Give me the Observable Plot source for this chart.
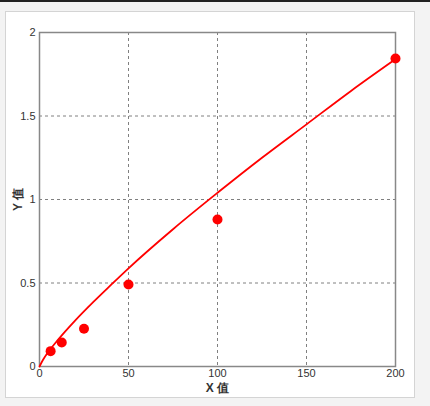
<!DOCTYPE html>
<html>
<head>
<meta charset="utf-8">
<script src="https://cdn.jsdelivr.net/npm/d3@7"></script>
<script src="https://cdn.jsdelivr.net/npm/@observablehq/plot@0.6"></script>
<style>
  html, body { margin: 0; padding: 0; background: #f3f3f3; width: 430px; height: 406px; overflow: hidden; }
  #topbar { position: absolute; left: 0; top: 0; width: 430px; height: 2px; background: #222; }
  #panel { position: absolute; left: 5px; top: 11px; width: 408px; height: 385px; background: #fff; border: 1px solid #d4d4d4; }
  #chart { position: absolute; left: 0; top: 0; }
  #chart svg { background: transparent !important; }
</style>
</head>
<body>
<div id="topbar"></div>
<div id="panel"></div>
<div id="chart"></div>
<script>
// Measured points
const pointX = [6.25, 12.5, 25, 50, 100, 200];
const pointY = [0.092, 0.144, 0.226, 0.491, 0.88, 1.844];

// Fitted curve
const curveX = [0, 2, 5, 10, 20, 30, 40, 50, 75, 100, 125, 150, 175, 200];
const curveY = [0, 0.04, 0.088, 0.155, 0.275, 0.384, 0.487, 0.588, 0.822, 1.04, 1.25, 1.45, 1.65, 1.84];

// Tick values
const xTicks = [0, 50, 100, 150, 200];
const yTicks = [0, 0.5, 1, 1.5, 2];
const xGrid = [50, 100, 150];
const yGrid = [0.5, 1, 1.5];

const points = pointX.map((x, i) => ({x, y: pointY[i]}));
const curve = curveX.map((x, i) => ({x, y: curveY[i]}));

const chart = Plot.plot({
  width: 430,
  height: 406,
  marginLeft: 39,
  marginRight: 35,
  marginTop: 32,
  marginBottom: 40,
  style: { fontFamily: "'Liberation Sans', Arial, sans-serif", fontSize: "11px", color: "#333", background: "transparent" },
  x: { domain: [0, 200] },
  y: { domain: [0, 2] },
  marks: [
    Plot.ruleX(xGrid, { stroke: "#808080", strokeDasharray: "3,3", strokeWidth: 1 }),
    Plot.ruleY(yGrid, { stroke: "#808080", strokeDasharray: "3,3", strokeWidth: 1 }),
    Plot.frame({ stroke: "#888", strokeWidth: 1.5 }),
    Plot.axisX({ ticks: xTicks, tickSize: 0, tickPadding: 3, label: "X 值", labelAnchor: "center", labelArrow: false, labelOffset: 25, fill: "#333" }),
    Plot.axisY({ ticks: yTicks, tickSize: 0, tickPadding: 4, tickFormat: d => String(d), label: "Y 值", labelAnchor: "center", labelArrow: false, labelOffset: 26, fill: "#333" }),
    Plot.line(curve, { x: "x", y: "y", stroke: "#ff0000", strokeWidth: 1.8, curve: "monotone-x" }),
    Plot.dot(points, { x: "x", y: "y", r: 5, fill: "#ff0000", stroke: "none" })
  ]
});
document.getElementById("chart").appendChild(chart);
d3.select(chart).selectAll("[aria-label='x-axis label'] text, [aria-label='y-axis label'] text").style("font-weight", "bold").style("font-size", "12px");
</script>
</body>
</html>
